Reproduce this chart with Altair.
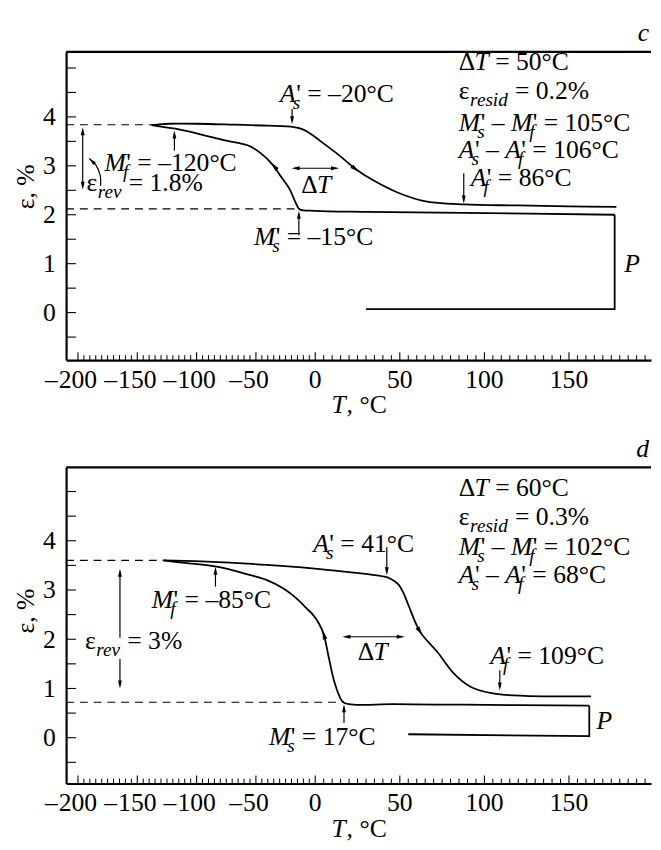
import math
import altair as alt
import pandas as pd

# ---------------- style ----------------
FONT = "Liberation Serif"
FS = 26          # main text size
SUB = 19.5       # subscript size
SUB_DY = 7
LW = 1.8         # curve width
AW = 1.2         # annotation width
AXW = 2.2        # frame width
HEAD_PATH = "M0,0L0.55,2.3L-0.55,2.3Z"

W = 594
XDOM = [-210, 0, 198.5]          # piecewise (compressed negative side)
XRNG = [0, 253, 594]
H = {"c": 313, "d": 321}
YDOM = {"c": [-0.97, 5.33], "d": [-0.93, 5.49]}

X_TICK_LABELS = [-200, -150, -100, -50, 0, 50, 100, 150]
Y_TICK_LABELS = [0, 1, 2, 3, 4]
X_TICKS = list(range(-200, 200, 5))
Y_TICKS = [-0.5, 0, 0.5, 1, 1.5, 2, 2.5, 3, 3.5, 4, 4.5, 5]

# ---------------- data: panel c ----------------
C_LOAD_T = [30, 177, 177]
C_LOAD_E = [0.07, 0.07, 2.0]
C_COOL_T = [177, 88, 30, 0, -13, -16, -21.5, -30, -35, -46, -57, -76, -96, -118, -130, -138]
C_COOL_E = [2.0, 2.04, 2.06, 2.08, 2.11, 2.22, 2.52, 2.82, 3.0, 3.26, 3.42, 3.52, 3.64, 3.76, 3.80, 3.83]
C_HEAT_T = [-138, -130, -124, -100, -68, -40, -18, -10, -3, 2.5, 14, 24, 33.5, 49, 64.5, 88, 120, 150, 178]
C_HEAT_E = [3.83, 3.85, 3.86, 3.86, 3.84, 3.82, 3.79, 3.74, 3.64, 3.52, 3.22, 2.93, 2.72, 2.45, 2.28, 2.21, 2.19, 2.17, 2.16]

# ---------------- data: panel d ----------------
D_LOAD_T = [55, 162, 162]
D_LOAD_E = [0.07, 0.03, 0.65]
D_COOL_T = [162, 88, 47, 17, 14, 11, 8, 5, 2.5, -2, -7.5, -15.8, -26.8, -40.7, -54.5, -82, -109.8, -128]
D_COOL_E = [0.65, 0.67, 0.68, 0.71, 0.87, 1.17, 1.63, 2.1, 2.3, 2.5, 2.63, 2.83, 3.03, 3.2, 3.3, 3.47, 3.55, 3.6]
D_HEAT_T = [-128, -96, -40.7, 10, 41, 45, 49, 52, 55, 62, 72, 82, 92, 105, 124, 163]
D_HEAT_E = [3.6, 3.58, 3.51, 3.4, 3.27, 3.22, 3.12, 2.95, 2.7, 2.15, 1.75, 1.3, 1.03, 0.9, 0.85, 0.84]

# dashed guide lines: (panel, strain, end temperature)
DASHES = [("c", 3.84, -138), ("c", 2.12, -13.8), ("d", 3.6, -128), ("d", 0.72, 17)]

# pointer arrows: (panel, T from, e from, T to, e to, heads)
ARROWS = [
    ("c", -19.5, 4.16, -19.5, 3.85, "end"),
    ("c", -118.7, 3.31, -118.7, 3.72, "end"),
    ("c", -13.8, 1.58, -13.8, 2.08, "end"),
    ("c", 87.8, 2.85, 87.8, 2.23, "end"),
    ("c", -196, 2.51, -196, 3.79, "both"),
    ("c", -19.9, 2.95, 14.1, 2.95, "both"),
    ("d", 42.3, 3.87, 42.3, 3.30, "end"),
    ("d", -84.1, 3.07, -84.1, 3.47, "end"),
    ("d", 17, 0.30, 17, 0.68, "end"),
    ("d", 109.1, 1.37, 109.1, 0.96, "end"),
    ("d", -164.6, 2.03, -164.6, 3.43, "end"),
    ("d", -164.6, 1.60, -164.6, 1.00, "end"),
    ("d", 16.1, 2.05, 52.9, 2.05, "both"),
]

# arrowheads on the curves: (panel, T, e, direction from (T,e), to (T,e))
CURVE_HEADS = [
    ("c", 24, 2.93, (14, 3.22), (33.5, 2.72)),
    ("c", -35, 3.0, (-30, 2.82), (-46, 3.26)),
    ("d", 62, 2.15, (55, 2.7), (72, 1.75)),
    ("d", 5, 2.1, (8, 1.63), (2.5, 2.3)),
]

# curved leader from the eps_rev label (panel c)
LEADER_T = [-180.9, -181.3, -185.0, -190.5]
LEADER_E = [2.59, 2.81, 3.02, 3.15]

# text labels: (panel, T, e, segments, align); kinds r=regular i=italic p=prime b=subscript
LABELS = [
    ("c", -29.6, 4.30, [("A", "i"), ("'", "p"), ("s", "b"), (" = –20°C", "r")], "left"),
    ("c", -177.6, 2.89, [("M", "i"), ("'", "p"), ("f", "b"), (" = –120°C", "r")], "left"),
    ("c", -192.8, 2.49, [("ε", "r"), ("rev", "b"), (" = 1.8%", "r")], "left"),
    ("c", 0.6, 2.45, [("Δ", "r"), ("T", "i")], "center"),
    ("c", -51.7, 1.38, [("M", "i"), ("'", "p"), ("s", "b"), (" = –15°C", "r")], "left"),
    ("c", 84.9, 4.95, [("Δ", "r"), ("T", "i"), (" = 50°C", "r")], "left"),
    ("c", 84.9, 4.36, [("ε", "r"), ("resid", "b"), (" = 0.2%", "r")], "left"),
    ("c", 84.9, 3.72, [("M", "i"), ("'", "p"), ("s", "b"), (" – ", "r"), ("M", "i"), ("'", "p"), ("f", "b"), (" = 105°C", "r")], "left"),
    ("c", 84.9, 3.16, [("A", "i"), ("'", "p"), ("s", "b"), (" – ", "r"), ("A", "i"), ("'", "p"), ("f", "b"), (" = 106°C", "r")], "left"),
    ("c", 91.9, 2.59, [("A", "i"), ("'", "p"), ("f", "b"), (" = 86°C", "r")], "left"),
    ("c", 182.6, 0.84, [("P", "i")], "left"),
    ("d", 84.9, 4.90, [("Δ", "r"), ("T", "i"), (" = 60°C", "r")], "left"),
    ("d", 84.9, 4.31, [("ε", "r"), ("resid", "b"), (" = 0.3%", "r")], "left"),
    ("d", 84.9, 3.71, [("M", "i"), ("'", "p"), ("s", "b"), (" – ", "r"), ("M", "i"), ("'", "p"), ("f", "b"), (" = 102°C", "r")], "left"),
    ("d", 84.9, 3.15, [("A", "i"), ("'", "p"), ("s", "b"), (" – ", "r"), ("A", "i"), ("'", "p"), ("f", "b"), (" = 68°C", "r")], "left"),
    ("d", -1.7, 3.77, [("A", "i"), ("'", "p"), ("s", "b"), (" = 41°C", "r")], "left"),
    ("d", -137.8, 2.63, [("M", "i"), ("'", "p"), ("f", "b"), (" = –85°C", "r")], "left"),
    ("d", -194.0, 1.80, [("ε", "r"), ("rev", "b"), (" = 3%", "r")], "left"),
    ("d", 34.0, 1.57, [("Δ", "r"), ("T", "i")], "center"),
    ("d", 103.5, 1.50, [("A", "i"), ("'", "p"), ("f", "b"), (" = 109°C", "r")], "left"),
    ("d", -39.0, -0.15, [("M", "i"), ("'", "p"), ("s", "b"), (" = 17°C", "r")], "left"),
    ("d", 166.3, 0.17, [("P", "i")], "left"),
]

PANEL_LETTER = {"c": "c", "d": "d"}
Y_TITLE = "ε, %"
X_TITLE = [("T", "i"), (", °C", "r")]
Y_TITLE_POS = {"c": 137, "d": 146}


# ---------------- helpers ----------------
def xpx(t):
    if t <= XDOM[1]:
        return XRNG[0] + (t - XDOM[0]) * (XRNG[1] - XRNG[0]) / (XDOM[1] - XDOM[0])
    return XRNG[1] + (t - XDOM[1]) * (XRNG[2] - XRNG[1]) / (XDOM[2] - XDOM[1])


def xdat(p):
    if p <= XRNG[1]:
        return XDOM[0] + (p - XRNG[0]) * (XDOM[1] - XDOM[0]) / (XRNG[1] - XRNG[0])
    return XDOM[1] + (p - XRNG[1]) * (XDOM[2] - XDOM[1]) / (XRNG[2] - XRNG[1])


def ypx(panel, e):
    lo, hi = YDOM[panel]
    return H[panel] * (hi - e) / (hi - lo)


def ydat(panel, p):
    lo, hi = YDOM[panel]
    return hi - p * (hi - lo) / H[panel]


def heading(panel, t0, e0, t1, e1):
    dx = xpx(t1) - xpx(t0)
    dy = ypx(panel, e1) - ypx(panel, e0)
    return math.degrees(math.atan2(dx, -dy)) % 360


REG_W = {" ": 250, "=": 564, "–": 500, "°": 400, "C": 667, "%": 833, ".": 250,
         ",": 250, "Δ": 612, "ε": 440, "'": 180}
for _d in "0123456789":
    REG_W[_d] = 500
ITA_W = {"A": 611, "M": 833, "T": 556, "P": 611, "s": 389, "f": 278, "r": 389,
         "e": 444, "v": 444, "i": 278, "d": 500, "c": 444, " ": 250}


def wid(text, kind):
    if kind == "r":
        return sum(REG_W.get(ch, 500) for ch in text) * FS / 1000
    if kind == "i":
        return sum(ITA_W.get(ch, 500) for ch in text) * FS / 1000
    if kind == "b":
        return sum(ITA_W.get(ch, 500) for ch in text) * SUB / 1000
    return 0.0


def place(text, kind, cur):
    """Vega trims leading/trailing blanks, so turn them into offsets."""
    core = text.strip(" ")
    lead = len(text) - len(text.lstrip(" "))
    trail = len(text) - lead - len(core)
    sp = wid(" ", kind)
    start = cur + lead * sp
    return start, core, start + wid(core, kind) + trail * sp


def layout(segs):
    out, cur, prime_x, prime_end = [], 0.0, None, None
    for text, kind in segs:
        if kind == "p":
            out.append((cur + 0.5, text, "r"))
            prime_x, prime_end = cur, cur + 0.5 + wid(text, "r")
            continue
        if kind == "b":
            start = prime_x - 3 if prime_x is not None else cur
            out.append((start, text, "b"))
            cur = start + wid(text, "b")
            if prime_end is not None:
                cur = max(cur, prime_end)
            prime_x = prime_end = None
            continue
        start, core, cur = place(text, kind, cur)
        out.append((start, core, kind))
        prime_x = prime_end = None
    return out, cur


# ---------------- tables ----------------
curve_rows, load_rows = [], []
for panel, name, Ts, Es, target in [
    ("c", "heat", C_HEAT_T, C_HEAT_E, curve_rows), ("c", "cool", C_COOL_T, C_COOL_E, curve_rows),
    ("c", "load", C_LOAD_T, C_LOAD_E, load_rows),
    ("d", "heat", D_HEAT_T, D_HEAT_E, curve_rows), ("d", "cool", D_COOL_T, D_COOL_E, curve_rows),
    ("d", "load", D_LOAD_T, D_LOAD_E, load_rows),
]:
    for i, (t, e) in enumerate(zip(Ts, Es)):
        target.append(dict(panel=panel, seg=f"{panel}-{name}", i=i, T=t, e=e))
curves = pd.DataFrame(curve_rows)
loads = pd.DataFrame(load_rows)

leader = pd.DataFrame(dict(panel="c", i=list(range(len(LEADER_T))), T=LEADER_T, e=LEADER_E))

dashes = pd.DataFrame([dict(panel=p, e=e, T0=XDOM[0], T1=t) for p, e, t in DASHES])

rule_rows, head_rows = [], []
for panel, t0, e0, t1, e1, heads in ARROWS:
    x0, y0, x1, y1 = xpx(t0), ypx(panel, e0), xpx(t1), ypx(panel, e1)
    L = math.hypot(x1 - x0, y1 - y0)
    ux, uy = (x1 - x0) / L, (y1 - y0) / L
    sx1, sy1 = x1 - ux * 3, y1 - uy * 3
    sx0, sy0 = (x0 + ux * 3, y0 + uy * 3) if heads == "both" else (x0, y0)
    rule_rows.append(dict(panel=panel, T=xdat(sx0), e=ydat(panel, sy0),
                          T2=xdat(sx1), e2=ydat(panel, sy1)))
    head_rows.append(dict(panel=panel, T=t1, e=e1, ang=heading(panel, t0, e0, t1, e1), size=50))
    if heads == "both":
        head_rows.append(dict(panel=panel, T=t0, e=e0, ang=heading(panel, t1, e1, t0, e0), size=50))
for panel, t, e, a, b in CURVE_HEADS:
    ang = heading(panel, a[0], a[1], b[0], b[1])
    px, py = xpx(t), ypx(panel, e)
    px += 4.5 * math.sin(math.radians(ang))
    py -= 4.5 * math.cos(math.radians(ang))
    head_rows.append(dict(panel=panel, T=xdat(px), e=ydat(panel, py), ang=ang, size=70))
_lt, _le = LEADER_T, LEADER_E
head_rows.append(dict(panel="c", T=_lt[-1], e=_le[-1],
                      ang=heading("c", _lt[-2], _le[-2], _lt[-1], _le[-1]), size=45))
rules = pd.DataFrame(rule_rows)
heads = pd.DataFrame(head_rows)

text_rows = []
for panel, t, e, segs, align in LABELS:
    parts, total = layout(segs)
    left = xpx(t) - (total / 2 if align == "center" else 0)
    for off, text, kind in parts:
        text_rows.append(dict(panel=panel, T=xdat(left + off), e=e, text=text, kind=kind))
texts = pd.DataFrame(text_rows)

xlab_rows, xminus_rows = [], []
for v in X_TICK_LABELS:
    digits = str(abs(v))
    xlab_rows.append(dict(T=v, text=digits))
    if v < 0:
        dw = len(digits) * 0.5 * FS
        xminus_rows.append(dict(T=xdat(xpx(v) - dw / 2 - 1), text="–"))
xlabs = pd.DataFrame(xlab_rows)
xminus = pd.DataFrame(xminus_rows)

xt = pd.DataFrame(dict(T=X_TICKS))
xt_major = xt[xt["T"] % 50 == 0]
xt_minor = xt[xt["T"] % 50 != 0]
yt = pd.DataFrame(dict(e=Y_TICKS))
one = pd.DataFrame(dict(k=[0]))


def panel_chart(p):
    h = H[p]
    xs = alt.Scale(domain=XDOM, range=XRNG, nice=False, zero=False)
    ys = alt.Scale(domain=YDOM[p], nice=False, zero=False)
    xax = alt.Axis(title=None, labels=False, ticks=False, grid=False,
                   domainColor="black", domainWidth=AXW)
    yax = alt.Axis(title=None, values=Y_TICK_LABELS, ticks=False, grid=False,
                   labelFont=FONT, labelFontSize=FS, labelColor="black",
                   labelPadding=11, domainColor="black", domainWidth=AXW)

    def X(f):
        return alt.X(f, type="quantitative", scale=xs, axis=xax)

    def Y(f):
        return alt.Y(f, type="quantitative", scale=ys, axis=yax)

    L = []
    L.append(alt.Chart(curves[curves.panel == p]).mark_line(
        interpolate="catmull-rom", color="black", strokeWidth=LW).encode(
        x=X("T"), y=Y("e"), detail="seg:N", order="i:Q"))
    L.append(alt.Chart(loads[loads.panel == p]).mark_line(
        color="black", strokeWidth=LW).encode(x=X("T"), y=Y("e"), detail="seg:N", order="i:Q"))
    if p == "c":
        L.append(alt.Chart(leader).mark_line(
            interpolate="catmull-rom", color="black", strokeWidth=AW).encode(
            x=X("T"), y=Y("e"), order="i:Q"))
    L.append(alt.Chart(dashes[dashes.panel == p]).mark_rule(
        color="black", strokeWidth=AW, strokeDash=[8, 6]).encode(
        x=X("T0"), x2="T1", y=Y("e")))
    L.append(alt.Chart(rules[rules.panel == p]).mark_rule(
        color="black", strokeWidth=AW).encode(x=X("T"), x2="T2", y=Y("e"), y2="e2"))
    L.append(alt.Chart(heads[heads.panel == p]).mark_point(
        shape=HEAD_PATH, filled=True, color="black", opacity=1, strokeWidth=0).encode(
        x=X("T"), y=Y("e"), angle=alt.Angle("ang:Q", scale=None),
        size=alt.Size("size:Q", scale=None)))
    tp = texts[texts.panel == p]
    L.append(alt.Chart(tp[tp.kind == "r"]).mark_text(
        font=FONT, fontSize=FS, align="left", baseline="alphabetic", color="black").encode(
        x=X("T"), y=Y("e"), text="text:N"))
    L.append(alt.Chart(tp[tp.kind == "i"]).mark_text(
        font=FONT, fontSize=FS, fontStyle="italic", align="left", baseline="alphabetic",
        color="black").encode(x=X("T"), y=Y("e"), text="text:N"))
    L.append(alt.Chart(tp[tp.kind == "b"]).mark_text(
        font=FONT, fontSize=SUB, fontStyle="italic", align="left", baseline="alphabetic",
        dy=SUB_DY, color="black").encode(x=X("T"), y=Y("e"), text="text:N"))
    # inside ticks
    L.append(alt.Chart(xt_major).mark_rule(color="black", strokeWidth=1.1).encode(
        x=X("T"), y=alt.value(h), y2=alt.value(h - 8)))
    L.append(alt.Chart(xt_minor).mark_rule(color="black", strokeWidth=1.0).encode(
        x=X("T"), y=alt.value(h), y2=alt.value(h - 5)))
    L.append(alt.Chart(yt).mark_rule(color="black", strokeWidth=1.1).encode(
        y=Y("e"), x=alt.value(0), x2=alt.value(10)))
    # top frame
    L.append(alt.Chart(one).mark_rule(color="black", strokeWidth=AXW).encode(
        x=alt.value(0), x2=alt.value(W), y=alt.value(0)))
    # x tick labels
    L.append(alt.Chart(xlabs).mark_text(
        font=FONT, fontSize=FS, align="center", baseline="alphabetic", color="black").encode(
        x=X("T"), y=alt.value(h + 28), text="text:N"))
    L.append(alt.Chart(xminus).mark_text(
        font=FONT, fontSize=FS, align="right", baseline="alphabetic", color="black").encode(
        x=X("T"), y=alt.value(h + 28), text="text:N"))
    # axis titles
    tw = wid(X_TITLE[0][0], "i")
    total = tw + wid(X_TITLE[1][0], "r")
    x0 = W / 2 - total / 2
    L.append(alt.Chart(one).mark_text(
        font=FONT, fontSize=FS, fontStyle="italic", align="left", baseline="alphabetic",
        color="black").encode(x=alt.value(x0), y=alt.value(h + 54), text=alt.value(X_TITLE[0][0])))
    L.append(alt.Chart(one).mark_text(
        font=FONT, fontSize=FS, align="left", baseline="alphabetic",
        color="black").encode(x=alt.value(x0 + tw + 1), y=alt.value(h + 54),
                              text=alt.value(X_TITLE[1][0])))
    L.append(alt.Chart(one).mark_text(
        font=FONT, fontSize=FS, angle=270, align="center", baseline="middle",
        color="black").encode(x=alt.value(-41), y=alt.value(Y_TITLE_POS[p]), text=alt.value(Y_TITLE)))
    # panel letter
    L.append(alt.Chart(one).mark_text(
        font=FONT, fontSize=FS, fontStyle="italic", align="right", baseline="alphabetic",
        color="black").encode(x=alt.value(W - 2), y=alt.value(-11), text=alt.value(PANEL_LETTER[p])))
    return alt.layer(*L).properties(width=W, height=h)


chart = alt.vconcat(panel_chart("c"), panel_chart("d"), spacing=16).properties(
    padding={"left": 4, "right": 0, "top": 5, "bottom": 0},
    background="white",
).configure_view(stroke="transparent")

chart.save("out.html", embed_options={"renderer": "svg", "actions": False})
